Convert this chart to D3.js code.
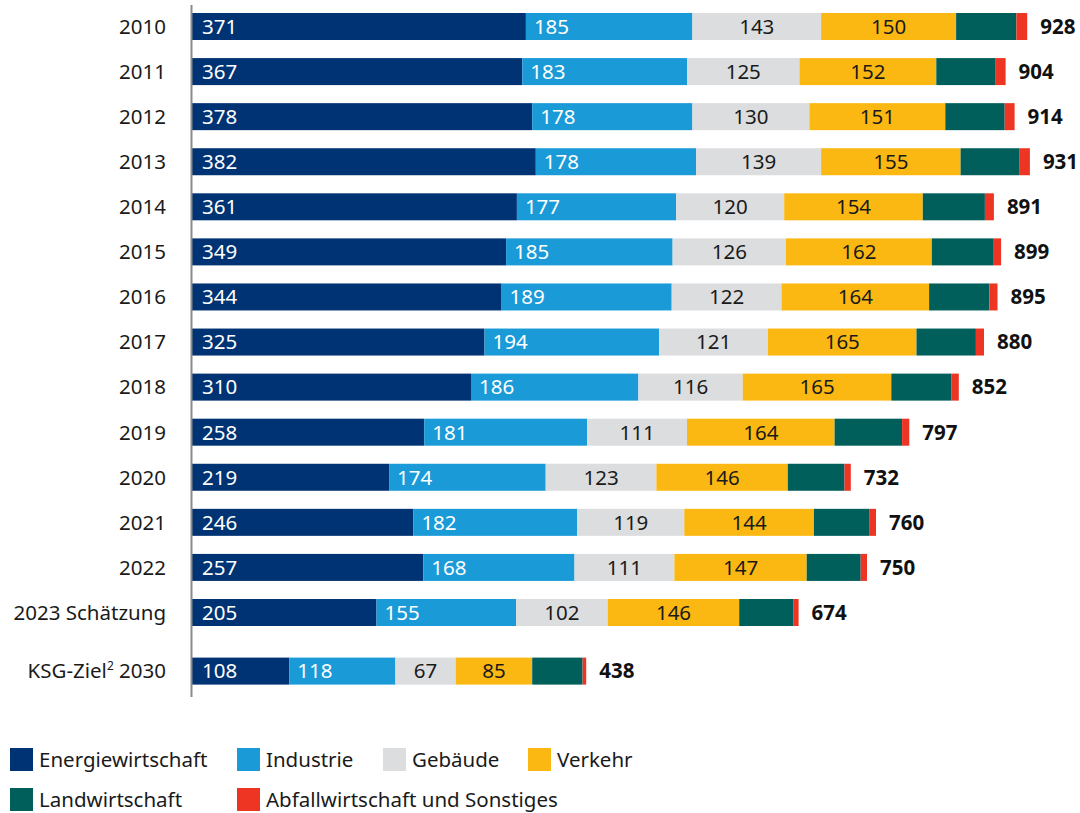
<!DOCTYPE html>
<html>
<head>
<meta charset="utf-8">
<script src="https://cdn.jsdelivr.net/npm/d3@7"></script>
<style>
  body { margin: 0; background: #fff; }
  text { font-family: "Noto Sans", "Open Sans", sans-serif; }
</style>
</head>
<body>
<script>
// categories (rows)
var years = ["2010", "2011", "2012", "2013", "2014", "2015", "2016", "2017",
  "2018", "2019", "2020", "2021", "2022", "2023 Schätzung", "KSG-Ziel² 2030"];

// values per sector, Mio. t CO2-Äquivalente
var energie = [371, 367, 378, 382, 361, 349, 344, 325, 310, 258, 219, 246, 257, 205, 108];
var industrie = [185, 183, 178, 178, 177, 185, 189, 194, 186, 181, 174, 182, 168, 155, 118];
var gebaeude = [143, 125, 130, 139, 120, 126, 122, 121, 116, 111, 123, 119, 111, 102, 67];
var verkehr = [150, 152, 151, 155, 154, 162, 164, 165, 165, 164, 146, 144, 147, 146, 85];
var landwirtschaft = [67, 66, 66, 65, 69, 68, 67, 66, 67, 75, 63, 62, 60, 60, 56];
var abfall = [12, 11, 11, 12, 10, 9, 9, 9, 8, 8, 7, 7, 7, 6, 4];
var totals = [928, 904, 914, 931, 891, 899, 895, 880, 852, 797, 732, 760, 750, 674, 438];

var sectors = ["Energiewirtschaft", "Industrie", "Gebäude", "Verkehr",
  "Landwirtschaft", "Abfallwirtschaft und Sonstiges"];

function main() {
  var width = 1080,
    height = 813;

  var colors = ["#003373", "#1a9bd7", "#dcdddf", "#fbb813", "#005f5b", "#ee3524"];
  var labelColors = ["#fff", "#fff", "#1a1a1a", "#1a1a1a", null, null];

  var svg = d3
    .select("body")
    .append("svg")
    .attr("width", width)
    .attr("height", height);

  // table for the stack
  var table = years.map(function (y, i) {
    return {
      year: y,
      idx: i,
      "Energiewirtschaft": energie[i],
      "Industrie": industrie[i],
      "Gebäude": gebaeude[i],
      "Verkehr": verkehr[i],
      "Landwirtschaft": landwirtschaft[i],
      "Abfallwirtschaft und Sonstiges": abfall[i],
      total: totals[i]
    };
  });

  var series = d3.stack().keys(sectors)(table);

  var x = d3.scaleLinear().domain([0, 1000]).range([192, 1092]);
  // last row (target) sits a bit further down
  var rowPos = function (i) { return i < 14 ? i : i + 0.3; };
  var y = d3.scaleLinear().domain([0, 13]).range([26.5, 612.5]);
  var barH = 27;

  var groups = svg
    .append("g")
    .selectAll("g")
    .data(series)
    .enter()
    .append("g")
    .attr("fill", function (d, i) { return colors[i]; });

  groups
    .selectAll("rect")
    .data(function (d) { return d; })
    .enter()
    .append("rect")
    .attr("x", function (d) { return x(d[0]); })
    .attr("y", function (d) { return y(rowPos(d.data.idx)) - barH / 2; })
    .attr("width", function (d) { return x(d[1]) - x(d[0]); })
    .attr("height", barH);

  // value labels inside segments
  series.forEach(function (s, si) {
    if (!labelColors[si]) return;
    svg
      .append("g")
      .selectAll("text")
      .data(s)
      .enter()
      .append("text")
      .attr("x", function (d) {
        if (si === 0) return x(d[0]) + 10;
        if (si === 1) return x(d[0]) + 8;
        return (x(d[0]) + x(d[1])) / 2;
      })
      .attr("y", function (d) { return y(rowPos(d.data.idx)); })
      .attr("dy", "0.36em")
      .attr("text-anchor", si < 2 ? "start" : "middle")
      .attr("font-size", "20.5px")
      .attr("fill", labelColors[si])
      .text(function (d) { return d[1] - d[0]; });
  });

  // totals
  svg
    .append("g")
    .selectAll("text")
    .data(table)
    .enter()
    .append("text")
    .attr("x", function (d) { return x(d.total) + 13; })
    .attr("y", function (d) { return y(rowPos(d.idx)); })
    .attr("dy", "0.36em")
    .attr("font-size", "20.5px")
    .attr("font-weight", "bold")
    .attr("fill", "#111")
    .text(function (d) { return d.total; });

  // row labels
  var rowLabels = svg
    .append("g")
    .selectAll("text")
    .data(table)
    .enter()
    .append("text")
    .attr("x", 166)
    .attr("y", function (d) { return y(rowPos(d.idx)); })
    .attr("dy", "0.36em")
    .attr("text-anchor", "end")
    .attr("font-size", "20.5px")
    .attr("fill", "#1a1a1a");

  rowLabels.each(function (d) {
    var t = d3.select(this);
    var parts = d.year.split("²");
    t.append("tspan").text(parts[0]);
    if (parts.length > 1) {
      t.append("tspan")
        .attr("font-size", "12px")
        .attr("baseline-shift", "super")
        .text("2");
      t.append("tspan").text(parts[1]);
    }
  });

  // vertical axis line
  svg
    .append("line")
    .attr("x1", x(0) - 0.5)
    .attr("x2", x(0) - 0.5)
    .attr("y1", 5)
    .attr("y2", 697)
    .attr("stroke", "#8a8a8a")
    .attr("stroke-width", 2);

  // legend
  var legCols = [10, 237, 383, 528, 10, 237];
  var legRows = [0, 0, 0, 0, 1, 1];
  var legend = svg
    .append("g")
    .selectAll("g")
    .data(sectors)
    .enter()
    .append("g")
    .attr("transform", function (d, i) {
      return "translate(" + legCols[i] + "," + (748 + legRows[i] * 40) + ")";
    });

  legend
    .append("rect")
    .attr("width", 23)
    .attr("height", 23)
    .attr("fill", function (d, i) { return colors[i]; });

  legend
    .append("text")
    .attr("x", 29)
    .attr("y", 11.5)
    .attr("dy", "0.36em")
    .attr("font-size", "20.5px")
    .attr("fill", "#1a1a1a")
    .text(function (d) { return d; });
}

main();
</script>
</body>
</html>
